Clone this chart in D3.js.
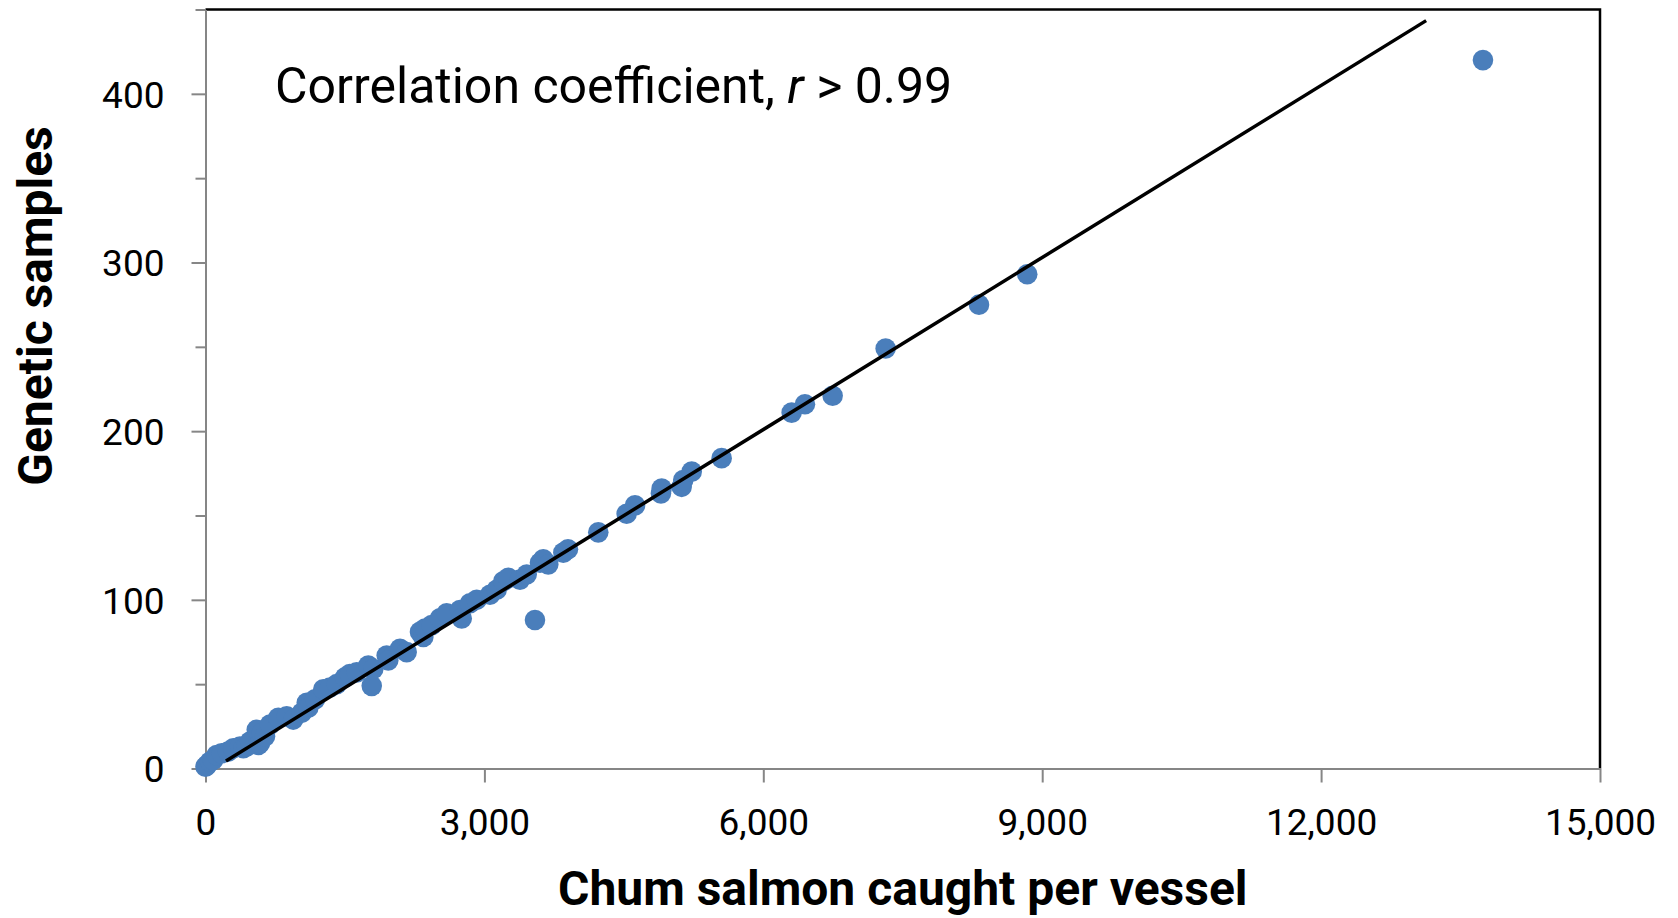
<!DOCTYPE html>
<html>
<head>
<meta charset="utf-8">
<script src="https://cdn.jsdelivr.net/npm/d3@7"></script>
<style>
    body { margin: 0; background: #fff; }
    text { font-family: Roboto, "Open Sans", sans-serif; fill: #000; }
    .tickLabel { font-size: 37px; }
    .axisLabel { font-size: 48px; font-weight: bold; }
    .note { font-size: 50px; }
    .axis path, .axis line { stroke: #868686; stroke-width: 2; }
</style>
</head>
<body>
<div id="chart"></div>
<script>
// Datos: capturas de keta por barco vs muestras genéticas
const catchPerVessel = [0, 16, 48, 81, 120, 174, 242, 299, 371, 407, 443, 479, 551, 568, 586, 605, 640, 694,
    783, 873, 944, 1035, 1089, 1106, 1178, 1267, 1339, 1411, 1500, 1553, 1626, 1751, 1788, 1805,
    1949, 1966, 2092, 2164, 2307, 2343, 2361, 2433, 2522, 2594, 2737, 2756, 2845, 2917, 3060, 3132,
    3203, 3257, 3383, 3455, 3544, 3598, 3633, 3687, 3849, 3899, 4225, 4530, 4620, 4899, 4907, 5122,
    5139, 5230, 5552, 6305, 6448, 6746, 7316, 8320, 8839, 13741]
const geneticSamples = [1, 2, 4, 5, 8, 9, 10, 12, 13, 12, 13, 16, 23, 14, 15, 21, 19, 26,
    30, 31, 29, 33, 39, 36, 41, 47, 48, 50, 54, 56, 57, 61, 49, 59,
    67, 64, 71, 69, 81, 78, 83, 85, 89, 92, 94, 89, 98, 100, 103, 106,
    111, 113, 112, 115, 88, 122, 124, 121, 128, 130, 140, 151, 156, 163, 166, 167,
    171, 176, 184, 211, 216, 221, 249, 275, 293, 420]

// Recta de regresión (extremos)
const trendX = [220, 13130]
const trendY = [4.4, 443.4]

const xTicks = [0, 3000, 6000, 9000, 12000, 15000]
const yTicks = [0, 100, 200, 300, 400]
const yMinorTicks = [50, 150, 250, 350, 450]

// ----------------------------------------------------------

const width = 1678
const height = 918
const margin = {
    top: 9.5,
    bottom: 149.5,
    left: 205.5,
    right: 78
}

const svg = d3.select("div#chart").append("svg")
            .attr("width", width)
            .attr("height", height)

const scaleX = d3.scaleLinear().domain([0, 15000]).range([margin.left, width - margin.right])
const scaleY = d3.scaleLinear().domain([0, 450]).range([height - margin.bottom, margin.top])

// Marco superior y derecho en negro
svg.append("path")
    .attr("d", `M${scaleX(0)},${scaleY(450)} H${scaleX(15000)} V${scaleY(0)}`)
    .attr("fill", "none")
    .attr("stroke", "#000")
    .attr("stroke-width", 2.5)

// Ejes
const xAxis = d3.axisBottom(scaleX).tickValues(xTicks).tickSize(14).tickSizeOuter(0)
    .tickPadding(26).tickFormat(d3.format(","))
const yAxis = d3.axisLeft(scaleY).tickValues(yTicks).tickSize(14).tickSizeOuter(0)
    .tickPadding(27)
const yMinor = d3.axisLeft(scaleY).tickValues(yMinorTicks).tickSize(10).tickSizeOuter(0)
    .tickFormat("")

const xAxisGroup = svg.append("g").attr("class", "axis")
    .attr("transform", `translate(0 ${scaleY(0)})`).call(xAxis)
const yAxisGroup = svg.append("g").attr("class", "axis")
    .attr("transform", `translate(${scaleX(0)} 0)`).call(yAxis)
svg.append("g").attr("class", "axis")
    .attr("transform", `translate(${scaleX(0)} 0)`).call(yMinor)
    .select(".domain").remove()

svg.selectAll(".axis text").attr("class", "tickLabel").attr("font-family", null).attr("font-size", null)
xAxisGroup.selectAll("text").attr("dy", "0.71em")
yAxisGroup.selectAll("text").attr("dy", "0.36em")

// Puntos
const points = catchPerVessel.map((x, i) => ({x: x, y: geneticSamples[i]}))
svg.append("g").selectAll("circle").data(points)
    .enter().append("circle")
    .attr("cx", d => scaleX(d.x))
    .attr("cy", d => scaleY(d.y))
    .attr("r", 10.3)
    .attr("fill", "#4a7ebb")

// Línea de tendencia
const line = d3.line().x(d => scaleX(d[0])).y(d => scaleY(d[1]))
svg.append("path")
    .datum(trendX.map((x, i) => [x, trendY[i]]))
    .attr("d", line)
    .attr("fill", "none")
    .attr("stroke", "#000")
    .attr("stroke-width", 3.5)

// Títulos de ejes
svg.append("text").text("Chum salmon caught per vessel")
    .attr("class", "axisLabel")
    .attr("text-anchor", "middle")
    .attr("transform", `translate(${(scaleX(0) + scaleX(15000)) / 2} 905)`)

svg.append("text").text("Genetic samples")
    .attr("class", "axisLabel")
    .attr("text-anchor", "middle")
    .attr("transform", "translate(52 306) rotate(-90)")

// Anotación
const note = svg.append("text").attr("class", "note")
    .attr("x", 275).attr("y", 103)
note.append("tspan").text("Correlation coefficient, ")
note.append("tspan").text("r").attr("font-style", "italic")
note.append("tspan").text(" > 0.99")
</script>
</body>
</html>
